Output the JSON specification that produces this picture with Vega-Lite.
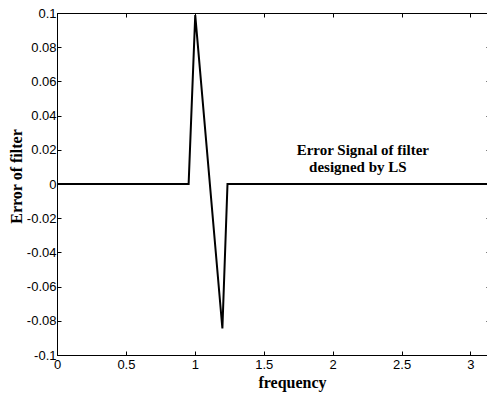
{
  "$schema": "https://vega.github.io/schema/vega-lite/v6.json",
  "autosize": "none",
  "width": 433,
  "height": 342,
  "padding": {"left": 57, "top": 13, "right": 0, "bottom": 44},
  "background": "white",
  "config": {
    "view": {"stroke": "black", "strokeWidth": 1},
    "axis": {
      "domainColor": "black", "tickColor": "black", "labelColor": "black", "titleColor": "black",
      "grid": false, "tickSize": -4, "labelFont": "Liberation Sans", "labelFontSize": 13,
      "titleFont": "Liberation Serif", "titleFontSize": 16, "titleFontWeight": "bold"
    }
  },
  "data": {"values": [
    {"frequency": 0, "error": 0},
    {"frequency": 0.955, "error": 0},
    {"frequency": 1.003, "error": 0.0988},
    {"frequency": 1.2, "error": -0.0845},
    {"frequency": 1.237, "error": 0},
    {"frequency": 3.1416, "error": 0}
  ]},
  "layer": [
    {
      "mark": {"type": "line", "color": "black", "strokeWidth": 2},
      "encoding": {
        "x": {"field": "frequency", "type": "quantitative", "scale": {"domain": [0, 3.1416], "nice": false, "zero": false},
          "axis": {"values": [0, 0.5, 1, 1.5, 2, 2.5, 3], "format": "~g", "title": "frequency", "labelPadding": 7, "titlePadding": 3, "titleX": 235, "labelFlush": false}},
        "y": {"field": "error", "type": "quantitative", "scale": {"domain": [-0.1, 0.1], "nice": false},
          "axis": {"values": [-0.1, -0.08, -0.06, -0.04, -0.02, 0, 0.02, 0.04, 0.06, 0.08, 0.1], "format": "~g", "labelExpr": "replace(datum.label, '\u2212', '-')", "title": "Error of filter", "labelPadding": 5, "titlePadding": 2, "titleY": 163}}
      }
    },
    {
      "mark": {"type": "rule", "opacity": 0},
      "encoding": {
        "x": {"field": "frequency", "type": "quantitative", "scale": {"domain": [0, 3.1416], "nice": false, "zero": false},
          "axis": {"orient": "top", "values": [0, 0.5, 1, 1.5, 2, 2.5, 3], "labels": false, "title": null}},
        "y": {"field": "error", "type": "quantitative", "scale": {"domain": [-0.1, 0.1], "nice": false},
          "axis": {"orient": "right", "values": [-0.1, -0.08, -0.06, -0.04, -0.02, 0, 0.02, 0.04, 0.06, 0.08, 0.1], "labels": false, "title": null}}
      }
    },
    {
      "data": {"values": [
        {"x": 2.219, "y": 0.0199, "t": "Error Signal of filter"},
        {"x": 2.183, "y": 0.0099, "t": "designed by LS"}
      ]},
      "mark": {"type": "text", "font": "Liberation Serif", "fontWeight": "bold", "fontSize": 15, "align": "center", "baseline": "middle", "color": "black"},
      "encoding": {
        "x": {"field": "x", "type": "quantitative", "axis": null},
        "y": {"field": "y", "type": "quantitative", "axis": null},
        "text": {"field": "t"}
      }
    }
  ],
  "resolve": {"axis": {"x": "independent", "y": "independent"}}
}
